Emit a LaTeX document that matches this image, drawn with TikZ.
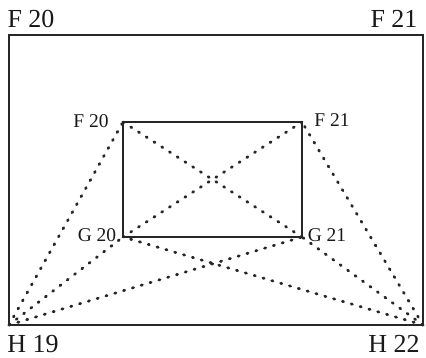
\documentclass[tikz,border=0pt]{standalone}
\usepackage{fontspec}
\setmainfont{Liberation Serif}
\usetikzlibrary{positioning}

\begin{document}
\begin{tikzpicture}[
  x=1pt, y=-1pt,
  every path/.style={black!85},
  frame/.style={draw, line width=2.2pt},
  sight/.style={draw, line width=2.8pt, line cap=round, dash pattern=on 1.2pt off 8pt},
  bigtag/.style={font=\fontsize{26}{28}\selectfont, inner sep=0pt, text=black!90},
  smalltag/.style={font=\fontsize{19.5}{21}\selectfont, inner sep=0pt, text=black!90}
]
\useasboundingbox (0,0) rectangle (426,358);

% outer corners
\coordinate (H19) at (9,325);
\coordinate (H22) at (423,325);
\coordinate (F20o) at (9,35);
\coordinate (F21o) at (423,35);
% inner corners
\coordinate (F20) at (123,122);
\coordinate (F21) at (302,122);
\coordinate (G20) at (123,237);
\coordinate (G21) at (302,237);

% dotted sight lines
\foreach \a/\b in {H19/F20, H19/G20, H19/G21, H22/F21, H22/G21, H22/G20, F20/G21, F21/G20}
  \draw[sight] (\a) -- (\b);

\draw[frame] (H19) rectangle (F21o);
\draw[frame] (G20) rectangle (F21);

% labels
\node[bigtag] (tF20o) at (31,19) {F 20};
\node[bigtag] (tF21o) at (394,19) {F 21};
\node[bigtag] (tH19) at (33,344) {H 19};
\node[bigtag] (tH22) at (394,344) {H 22};
\node[smalltag] (tF20) at (91,121) {F 20};
\node[smalltag] (tF21) at (332,120) {F 21};
\node[smalltag] (tG20) at (97,235) {G 20};
\node[smalltag] (tG21) at (327,235) {G 21};
\end{tikzpicture}
\end{document}
